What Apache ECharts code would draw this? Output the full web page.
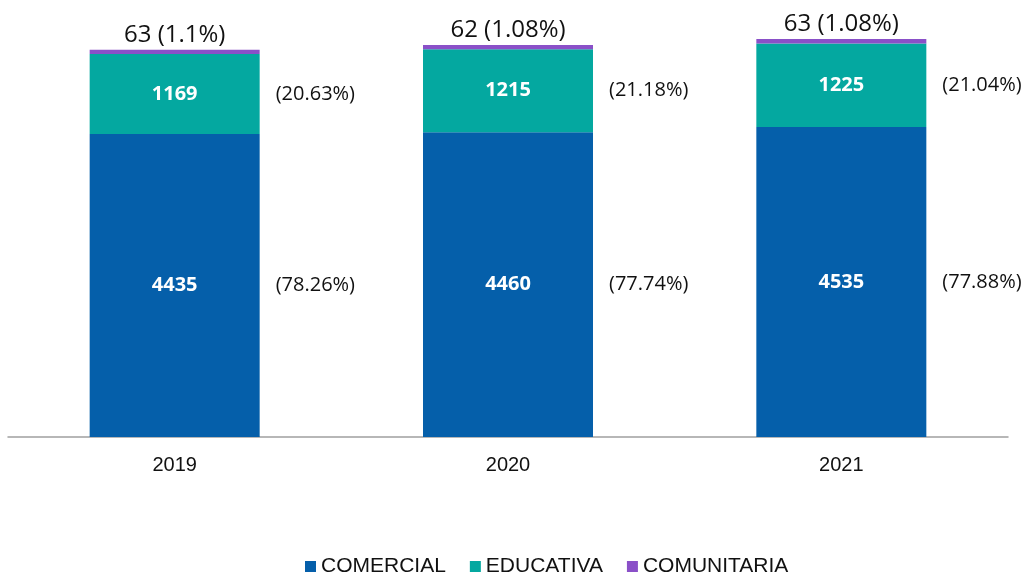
<!DOCTYPE html>
<html>
<head>
<meta charset="utf-8">
<script src="https://cdn.jsdelivr.net/npm/echarts@6/dist/echarts.min.js"></script>
<style>html,body{margin:0;padding:0;background:#fff}#c{width:1030px;height:574px}</style>
</head>
<body>
<div id="c"></div>
<script>
var years = ['2019', '2020', '2021'];
var comercial = [4435, 4460, 4535];
var educativa = [1169, 1215, 1225];
var comunitaria = [63, 62, 63];
var pctComercial = ['78.26%', '77.74%', '77.88%'];
var pctEducativa = ['20.63%', '21.18%', '21.04%'];
var pctComunitaria = ['1.1%', '1.08%', '1.08%'];

var colors = { com: '#055FAA', edu: '#04A8A0', cmt: '#8A50C8' };
var chart = echarts.init(document.getElementById('c'));
var inLabel = { show: true, position: 'inside', color: '#fff', fontWeight: 'bold', fontSize: 20, fontFamily: 'Open Sans' };
var pctLabel = function (arr) {
  return { show: true, position: 'right', distance: 16, color: '#111', fontSize: 20, fontFamily: 'Open Sans',
    formatter: function (p) { return '(' + arr[p.dataIndex] + ')'; } };
};
chart.setOption({
  animation: false,
  grid: { left: 8, right: 22, top: 27, bottom: 137 },
  legend: {
    top: 551, left: 300, itemWidth: 11, itemHeight: 11, itemGap: 24, icon: 'rect',
    data: ['COMERCIAL', 'EDUCATIVA', 'COMUNITARIA'],
    textStyle: { fontSize: 21, color: '#111', fontFamily: 'Liberation Sans' }
  },
  xAxis: {
    type: 'category', data: years,
    axisLine: { lineStyle: { color: '#a0a0a0', width: 1.5 } },
    axisTick: { show: false },
    axisLabel: { fontSize: 20, color: '#111', fontFamily: 'Liberation Sans', margin: 18 }
  },
  yAxis: { type: 'value', min: 0, max: 6000, show: false, splitLine: { show: false } },
  series: [
    { name: 'COMERCIAL', type: 'bar', stack: 'a', barWidth: 170, data: comercial,
      itemStyle: { color: colors.com }, label: inLabel },
    { name: 'EDUCATIVA', type: 'bar', stack: 'a', data: educativa,
      itemStyle: { color: colors.edu }, label: inLabel },
    { name: 'COMUNITARIA', type: 'bar', stack: 'a', data: comunitaria,
      itemStyle: { color: colors.cmt },
      label: { show: true, position: 'top', distance: 3, color: '#111', fontSize: 24, fontFamily: 'Open Sans',
        formatter: function (p) { return p.value + ' (' + pctComunitaria[p.dataIndex] + ')'; } } },
    { name: 'pc1', type: 'bar', stack: 'b', barGap: '-100%', barWidth: 170, data: comercial, silent: true,
      itemStyle: { color: 'rgba(0,0,0,0)' }, label: pctLabel(pctComercial) },
    { name: 'pc2', type: 'bar', stack: 'b', data: educativa, silent: true,
      itemStyle: { color: 'rgba(0,0,0,0)' }, label: pctLabel(pctEducativa) }
  ]
});
</script>
</body>
</html>
